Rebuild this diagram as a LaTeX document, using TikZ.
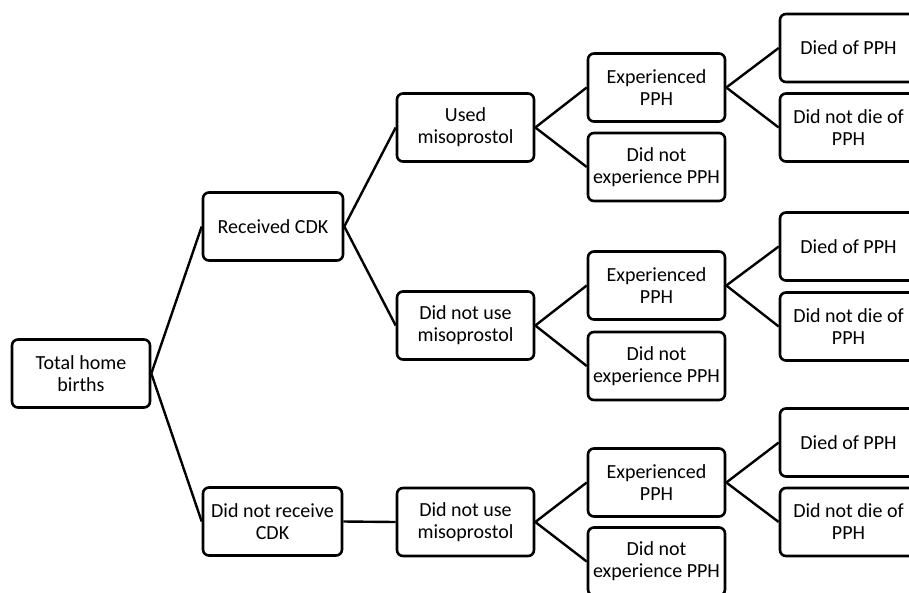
\documentclass[tikz,border=0pt]{standalone}
\usepackage{fontspec}
\setmainfont{Carlito}
\begin{document}
\begin{tikzpicture}[x=1pt,y=-1pt,
  box/.style={draw=black, line width=2.6pt, rounded corners=6pt, minimum width=137pt, minimum height=68pt,
    align=center, inner sep=0pt, text=black, font=\fontsize{20}{22}\selectfont},
  link/.style={line width=2.4pt, black}]
\useasboundingbox (0,0) rectangle (909,592);
\fill[white] (0,0) rectangle (909,592);
\clip (0,0) rectangle (909,592);
% column 0
\node[box, minimum width=138pt] (total) at (81,373.5) {Total home\\births};
% column 1
\node[box, minimum width=140pt] (rec) at (273,226.5) {Received CDK};
\node[box, minimum width=139pt] (norec) at (272.5,521.5) {Did not receive\\CDK};
% column 2
\node[box] (used) at (465.5,127.5) {Used\\misoprostol};
\node[box] (notused) at (465.5,325.5) {Did not use\\misoprostol};
\node[box] (notusedb) at (465.5,522) {Did not use\\misoprostol};
% column 3
\node[box] (exp1) at (656.5,87.5) {Experienced\\PPH};
\node[box] (nexp1) at (656.5,167) {Did not\\experience PPH};
\node[box] (exp2) at (656.5,285.5) {Experienced\\PPH};
\node[box] (nexp2) at (656.5,366) {Did not\\experience PPH};
\node[box] (exp3) at (656.5,482.5) {Experienced\\PPH};
\node[box] (nexp3) at (656.5,561.5) {Did not\\experience PPH};
% column 4
\node[box] (died1) at (848.5,48) {Died of PPH};
\node[box] (ndied1) at (848.5,127.5) {Did not die of\\PPH};
\node[box] (died2) at (848.5,246.5) {Died of PPH};
\node[box] (ndied2) at (848.5,326.5) {Did not die of\\PPH};
\node[box] (died3) at (848.5,442.5) {Died of PPH};
\node[box] (ndied3) at (848.5,522) {Did not die of\\PPH};
% connectors
\draw[link] (total.east) -- (rec.west);
\draw[link] (total.east) -- (norec.west);
\draw[link] (rec.east) -- (used.west);
\draw[link] (rec.east) -- (notused.west);
\draw[link] (norec.east) -- (notusedb.west);
\draw[link] (used.east) -- (exp1.west);
\draw[link] (used.east) -- (nexp1.west);
\draw[link] (notused.east) -- (exp2.west);
\draw[link] (notused.east) -- (nexp2.west);
\draw[link] (notusedb.east) -- (exp3.west);
\draw[link] (notusedb.east) -- (nexp3.west);
\draw[link] (exp1.east) -- (died1.west);
\draw[link] (exp1.east) -- (ndied1.west);
\draw[link] (exp2.east) -- (died2.west);
\draw[link] (exp2.east) -- (ndied2.west);
\draw[link] (exp3.east) -- (died3.west);
\draw[link] (exp3.east) -- (ndied3.west);
\end{tikzpicture}
\end{document}
